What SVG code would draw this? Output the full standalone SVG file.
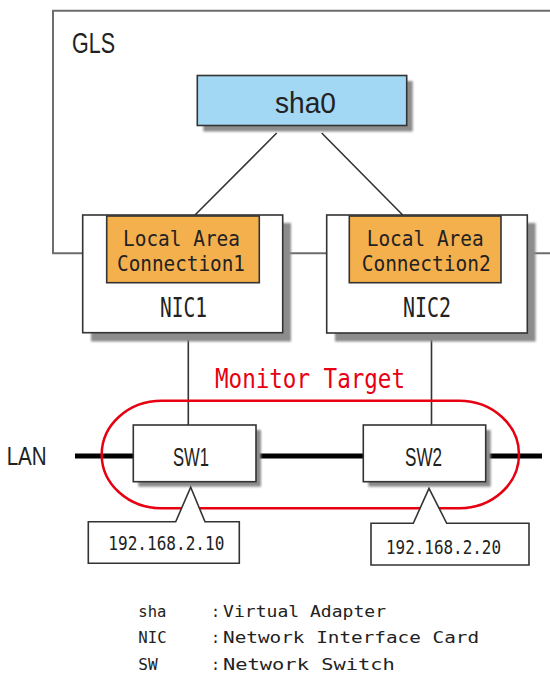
<svg xmlns="http://www.w3.org/2000/svg" width="550" height="675" viewBox="0 0 550 675">
<defs>
<filter id="blur" x="-10%" y="-10%" width="120%" height="120%"><feGaussianBlur stdDeviation="1"/></filter>
<style>
.box{stroke:#333;stroke-width:1.6;}
.shadow{fill:#8c8c8c;filter:url(#blur);}
.line{fill:none;stroke:#333;stroke-width:1.6;}
.frame{fill:none;stroke:#6e6e6e;stroke-width:2;}
.mono{font-family:"DejaVu Sans Mono","Liberation Mono",monospace;fill:#222;}
.sans{font-family:"Liberation Sans","DejaVu Sans",sans-serif;fill:#222;}
</style>
</defs>
<rect width="550" height="675" fill="#fff"/>

<g id="connectors">
<path class="frame" d="M551,10.7 H53 V253.3 H83 M283,253.3 H327 M527,253.3 H551"/>
<path class="line" d="M276.7,133 L195,215 M321.7,133 L402.7,215"/>
<path class="line" d="M188.3,332 V425 M431.5,333 V425"/>
<path fill="none" stroke="#000" stroke-width="5" d="M75,456 H133 M256,456 H363 M486,456 H542"/>
</g>

<g id="gls">
<text class="sans" x="72" y="53.3" font-size="29" textLength="43" lengthAdjust="spacingAndGlyphs">GLS</text>
</g>

<g id="sha0">
<rect class="shadow" x="203.3" y="81" width="209.4" height="50.5"/>
<rect class="box" x="197.3" y="75.5" width="209.4" height="50" fill="#A3D8F4"/>
<text class="sans" x="275" y="113.3" font-size="29" textLength="61" lengthAdjust="spacingAndGlyphs">sha0</text>
</g>

<g id="nic1">
<rect class="shadow" x="91" y="223" width="200" height="118.5"/>
<rect class="box" x="82.7" y="215" width="200" height="117.7" fill="#fff"/>
<rect class="box" x="106.7" y="216" width="152.6" height="66.7" fill="#F5B04E"/>
<text class="mono" x="123" y="246" font-size="22" textLength="117" lengthAdjust="spacingAndGlyphs">Local Area</text>
<text class="mono" x="117" y="271" font-size="22" textLength="128" lengthAdjust="spacingAndGlyphs">Connection1</text>
<text class="mono" x="160" y="316.7" font-size="27" textLength="47" lengthAdjust="spacingAndGlyphs">NIC1</text>
</g>

<g id="nic2">
<rect class="shadow" x="335" y="223" width="200.6" height="118.5"/>
<rect class="box" x="326.7" y="215" width="200.6" height="118" fill="#fff"/>
<rect class="box" x="349.3" y="216" width="151.7" height="66.7" fill="#F5B04E"/>
<text class="mono" x="366.7" y="246" font-size="22" textLength="117" lengthAdjust="spacingAndGlyphs">Local Area</text>
<text class="mono" x="361.7" y="271" font-size="22" textLength="129" lengthAdjust="spacingAndGlyphs">Connection2</text>
<text class="mono" x="403" y="317" font-size="27" textLength="48" lengthAdjust="spacingAndGlyphs">NIC2</text>
</g>

<g id="monitor-target">
<rect x="101.7" y="400.7" width="417.3" height="107.6" rx="60" ry="53.8" fill="none" stroke="#E60012" stroke-width="2.5"/>
<text x="215" y="388" font-size="27" textLength="190" lengthAdjust="spacingAndGlyphs" style="font-family:'DejaVu Sans Mono','Liberation Mono',monospace;fill:#E60012;">Monitor Target</text>
</g>

<g id="lan">
<text class="sans" x="6.7" y="465" font-size="25" textLength="40" lengthAdjust="spacingAndGlyphs">LAN</text>
</g>

<g id="sw1">
<rect class="shadow" x="138.3" y="430" width="122.7" height="56.7"/>
<rect class="box" x="133.3" y="425" width="122.7" height="56.7" fill="#fff"/>
<text class="sans" x="173" y="466" font-size="26" textLength="36" lengthAdjust="spacingAndGlyphs">SW1</text>
</g>

<g id="sw2">
<rect class="shadow" x="368.3" y="430" width="122.4" height="56.7"/>
<rect class="box" x="363.3" y="425" width="122.4" height="56.7" fill="#fff"/>
<text class="sans" x="405" y="466" font-size="26" textLength="37" lengthAdjust="spacingAndGlyphs">SW2</text>
</g>

<g id="ip1">
<path class="box" fill="#fff" d="M88.3,521.7 H175.7 L190.7,487.3 L205,521.7 H239.3 V563.3 H88.3 Z"/>
<text class="mono" x="108.3" y="550" font-size="20" textLength="116" lengthAdjust="spacingAndGlyphs">192.168.2.10</text>
</g>

<g id="ip2">
<path class="box" fill="#fff" d="M371,523.3 H413.3 L429,488.3 L446.7,523.3 H529 V565 H371 Z"/>
<text class="mono" x="386" y="554" font-size="20" textLength="115" lengthAdjust="spacingAndGlyphs">192.168.2.20</text>
</g>

<g id="legend">
<text class="mono" x="138.3" y="616.7" font-size="15" textLength="28" lengthAdjust="spacingAndGlyphs">sha</text>
<text class="mono" x="211" y="616.7" font-size="15">:<tspan font-size="5"> </tspan><tspan textLength="163" lengthAdjust="spacingAndGlyphs">Virtual Adapter</tspan></text>
<text class="mono" x="138.3" y="643.3" font-size="15" textLength="28.4" lengthAdjust="spacingAndGlyphs">NIC</text>
<text class="mono" x="211" y="643.3" font-size="15">:<tspan font-size="5"> </tspan><tspan textLength="256" lengthAdjust="spacingAndGlyphs">Network Interface Card</tspan></text>
<text class="mono" x="138.3" y="670" font-size="15" textLength="19.4" lengthAdjust="spacingAndGlyphs">SW</text>
<text class="mono" x="211" y="670" font-size="15">:<tspan font-size="5"> </tspan><tspan textLength="171.7" lengthAdjust="spacingAndGlyphs">Network Switch</tspan></text>
</g>
</svg>
